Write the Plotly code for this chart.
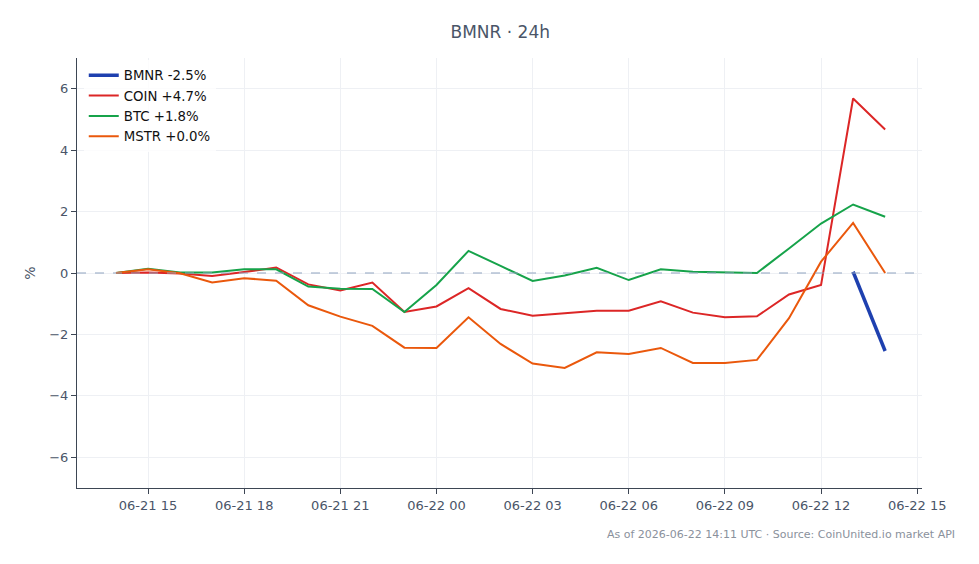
import plotly.graph_objects as go
import pandas as pd

times = pd.date_range("2026-06-21 14:00", "2026-06-22 14:00", freq="h")

coin = [0.0, 0.02, -0.02, -0.10, 0.03, 0.18, -0.37, -0.57, -0.31, -1.27, -1.09, -0.49, -1.17,
        -1.39, -1.31, -1.23, -1.23, -0.92, -1.29, -1.44, -1.41, -0.70, -0.39, 5.68, 4.67]
btc = [0.0, 0.14, 0.02, 0.02, 0.12, 0.12, -0.44, -0.51, -0.52, -1.27, -0.39, 0.72, 0.23,
       -0.26, -0.08, 0.17, -0.23, 0.12, 0.04, 0.02, 0.0, 0.80, 1.61, 2.23, 1.83]
mstr = [0.0, 0.12, -0.01, -0.31, -0.17, -0.25, -1.05, -1.42, -1.72, -2.43, -2.44, -1.44, -2.31,
        -2.95, -3.09, -2.58, -2.64, -2.44, -2.93, -2.93, -2.83, -1.47, 0.37, 1.63, 0.0]
bmnr = [None] * 23 + [0.04, -2.54]

series = [
    ("BMNR -2.5%", bmnr, "#1e40af", 3.5),
    ("COIN +4.7%", coin, "#dc2626", 2),
    ("BTC +1.8%", btc, "#16a34a", 2),
    ("MSTR +0.0%", mstr, "#ea580c", 2),
]

fig = go.Figure()
for name, vals, color, w in series:
    fig.add_trace(go.Scatter(x=times, y=vals, mode="lines", name=name,
                             line=dict(color=color, width=w), connectgaps=False))

fig.add_hline(y=0, line=dict(color="#8fa3c0", width=1.2, dash="dash"))

font = "DejaVu Sans"
fig.update_layout(
    width=979, height=564,
    margin=dict(l=77, r=57, t=58, b=76),
    paper_bgcolor="white", plot_bgcolor="white",
    font=dict(family=font, color="#4a5568", size=12),
    title=dict(text="BMNR · 24h", x=0.511, xanchor="center", y=0.943, yanchor="middle",
               font=dict(size=17, color="#4a5568", family=font)),
    showlegend=True,
    legend=dict(x=0.008, y=0.995, xanchor="left", yanchor="top", bgcolor="rgba(255,255,255,0.8)",
                font=dict(size=13.3, color="#111111", family=font), itemwidth=30,
                tracegroupgap=2),
    xaxis=dict(
        range=["2026-06-21 12:47", "2026-06-22 15:09"],
        tickformat="%m-%d %H", dtick=3 * 3600 * 1000, tick0="2026-06-21 15:00",
        showgrid=True, gridcolor="#eef0f4", gridwidth=1,
        showline=True, linecolor="#3d4654", linewidth=1.2,
        ticks="outside", ticklen=5, tickcolor="#3d4654",
        tickfont=dict(size=13, color="#4a5568"), zeroline=False,
    ),
    yaxis=dict(
        range=[-7, 7], dtick=2, tick0=0,
        showgrid=True, gridcolor="#eef0f4", gridwidth=1,
        showline=True, linecolor="#3d4654", linewidth=1.2,
        ticks="outside", ticklen=5, tickcolor="#3d4654",
        tickfont=dict(size=13, color="#4a5568"), zeroline=False,
        title=dict(text="%", font=dict(size=14, color="#4a5568"), standoff=10),
    ),
    annotations=[dict(
        text="As of 2026-06-22 14:11 UTC · Source: CoinUnited.io market API",
        xref="paper", yref="paper", x=1.042, y=-0.088, xanchor="right", yanchor="top",
        showarrow=False, font=dict(size=11, color="#8a919c", family=font),
    )],
)

fig.write_html("out.html")
